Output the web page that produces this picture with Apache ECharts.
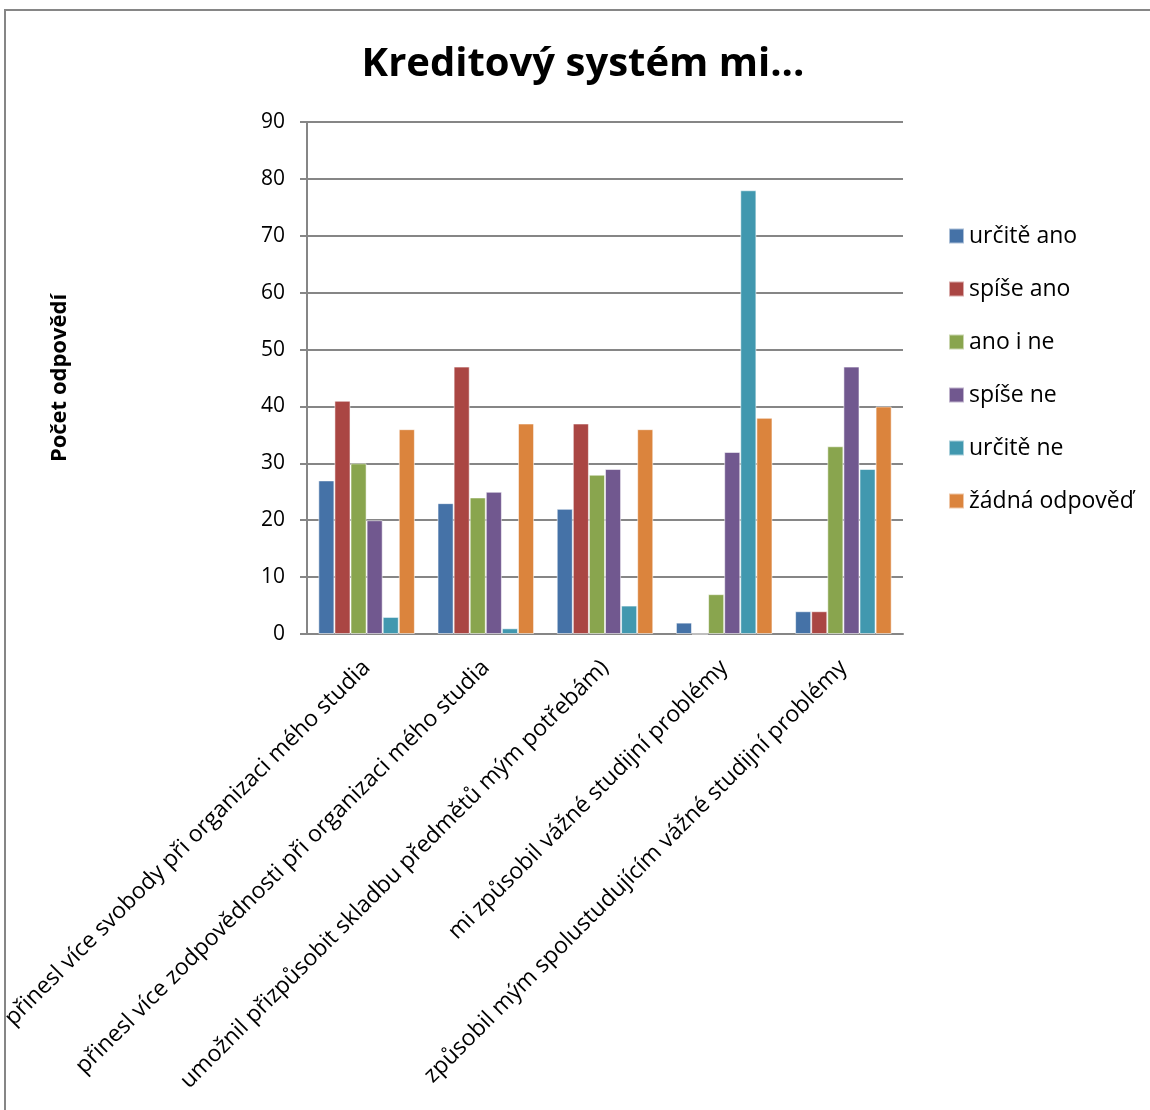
<!DOCTYPE html>
<html style="height: 100%;">
<head>
    <meta charset="UTF-8">
    <title>Kreditový systém mi...</title>
    <script src="https://cdn.jsdelivr.net/npm/echarts@6/dist/echarts.min.js"></script>
</head>
<body style="height: 100%;margin: 0;background:#fff;">
    <div id="container" style="width:1150px;height:1110px;"></div>
    <script type="text/javascript">
        var categories = [
            'přinesl více svobody při organizaci mého studia',
            'přinesl více zodpovědnosti při organizaci mého studia',
            'umožnil přizpůsobit skladbu předmětů mým potřebám)',
            'mi způsobil vážné studijní problémy',
            'způsobil mým spolustudujícím vážné studijní problémy'
        ];
        var seriesNames = ['určitě ano', 'spíše ano', 'ano i ne', 'spíše ne', 'určitě ne', 'žádná odpověď'];
        var urciteAno = [27, 23, 22, 2, 4];
        var spiseAno = [41, 47, 37, 0, 4];
        var anoINe = [30, 24, 28, 7, 33];
        var spiseNe = [20, 25, 29, 32, 47];
        var urciteNe = [3, 1, 5, 78, 29];
        var zadnaOdpoved = [36, 37, 36, 38, 40];
        var yTicks = [0, 10, 20, 30, 40, 50, 60, 70, 80, 90];

        var colors = ['#4572A7', '#AA4643', '#89A54E', '#71588F', '#4198AF', '#DB843D'];
        var values = [urciteAno, spiseAno, anoINe, spiseNe, urciteNe, zadnaOdpoved];
        var font = '"Open Sans", sans-serif';

        var myChart = echarts.init(document.getElementById('container'));

        var series = [];
        for (var i = 0; i < seriesNames.length; i++) {
            series.push({
                name: seriesNames[i],
                type: 'bar',
                barGap: '0%',
                barCategoryGap: '19%',
                itemStyle: {
                    color: colors[i],
                    borderColor: 'rgba(255,255,255,0.55)',
                    borderWidth: 1
                },
                data: values[i]
            });
        }

        var option = {
            animation: false,
            color: colors,
            title: {
                text: 'Kreditový systém mi...',
                left: 578,
                top: 40,
                textAlign: 'center',
                textStyle: { fontFamily: font, fontWeight: 'bold', fontSize: 40, color: '#000' }
            },
            legend: {
                orient: 'vertical',
                left: 948,
                top: 224,
                padding: 0,
                itemWidth: 15,
                itemHeight: 15,
                itemGap: 29,
                icon: 'rect',
                data: seriesNames,
                textStyle: { fontFamily: font, fontSize: 23, color: '#000', lineHeight: 24 }
            },
            grid: { left: 307, right: 247, top: 122, bottom: 476, outerBoundsMode: 'none' },
            xAxis: {
                type: 'category',
                data: categories,
                axisLine: { lineStyle: { color: '#868686', width: 2 } },
                axisTick: { show: false },
                axisLabel: {
                    rotate: 45,
                    interval: 0,
                    margin: 30,
                    fontFamily: font,
                    fontSize: 23,
                    color: '#000'
                }
            },
            yAxis: {
                type: 'value',
                min: 0,
                max: 90,
                interval: 10,
                name: 'Počet odpovědí',
                nameLocation: 'middle',
                nameRotate: 90,
                nameGap: 236,
                nameTextStyle: { fontFamily: font, fontWeight: 'bold', fontSize: 22, color: '#000' },
                axisLine: { show: true, lineStyle: { color: '#868686', width: 2 } },
                axisTick: { show: true, length: 7, lineStyle: { color: '#868686', width: 2 } },
                splitLine: { lineStyle: { color: '#868686', width: 2 } },
                axisLabel: {
                    margin: 22,
                    fontFamily: font,
                    fontSize: 21,
                    color: '#000',
                    formatter: function (v) { return yTicks.indexOf(v) >= 0 ? String(v) : ''; }
                }
            },
            graphic: [{
                type: 'polyline',
                shape: { points: [[5, 1110], [5, 10], [1150, 10]] },
                style: { stroke: '#868686', lineWidth: 2, fill: null }
            }],
            series: series
        };
        myChart.setOption(option);
    </script>
</body>
</html>
